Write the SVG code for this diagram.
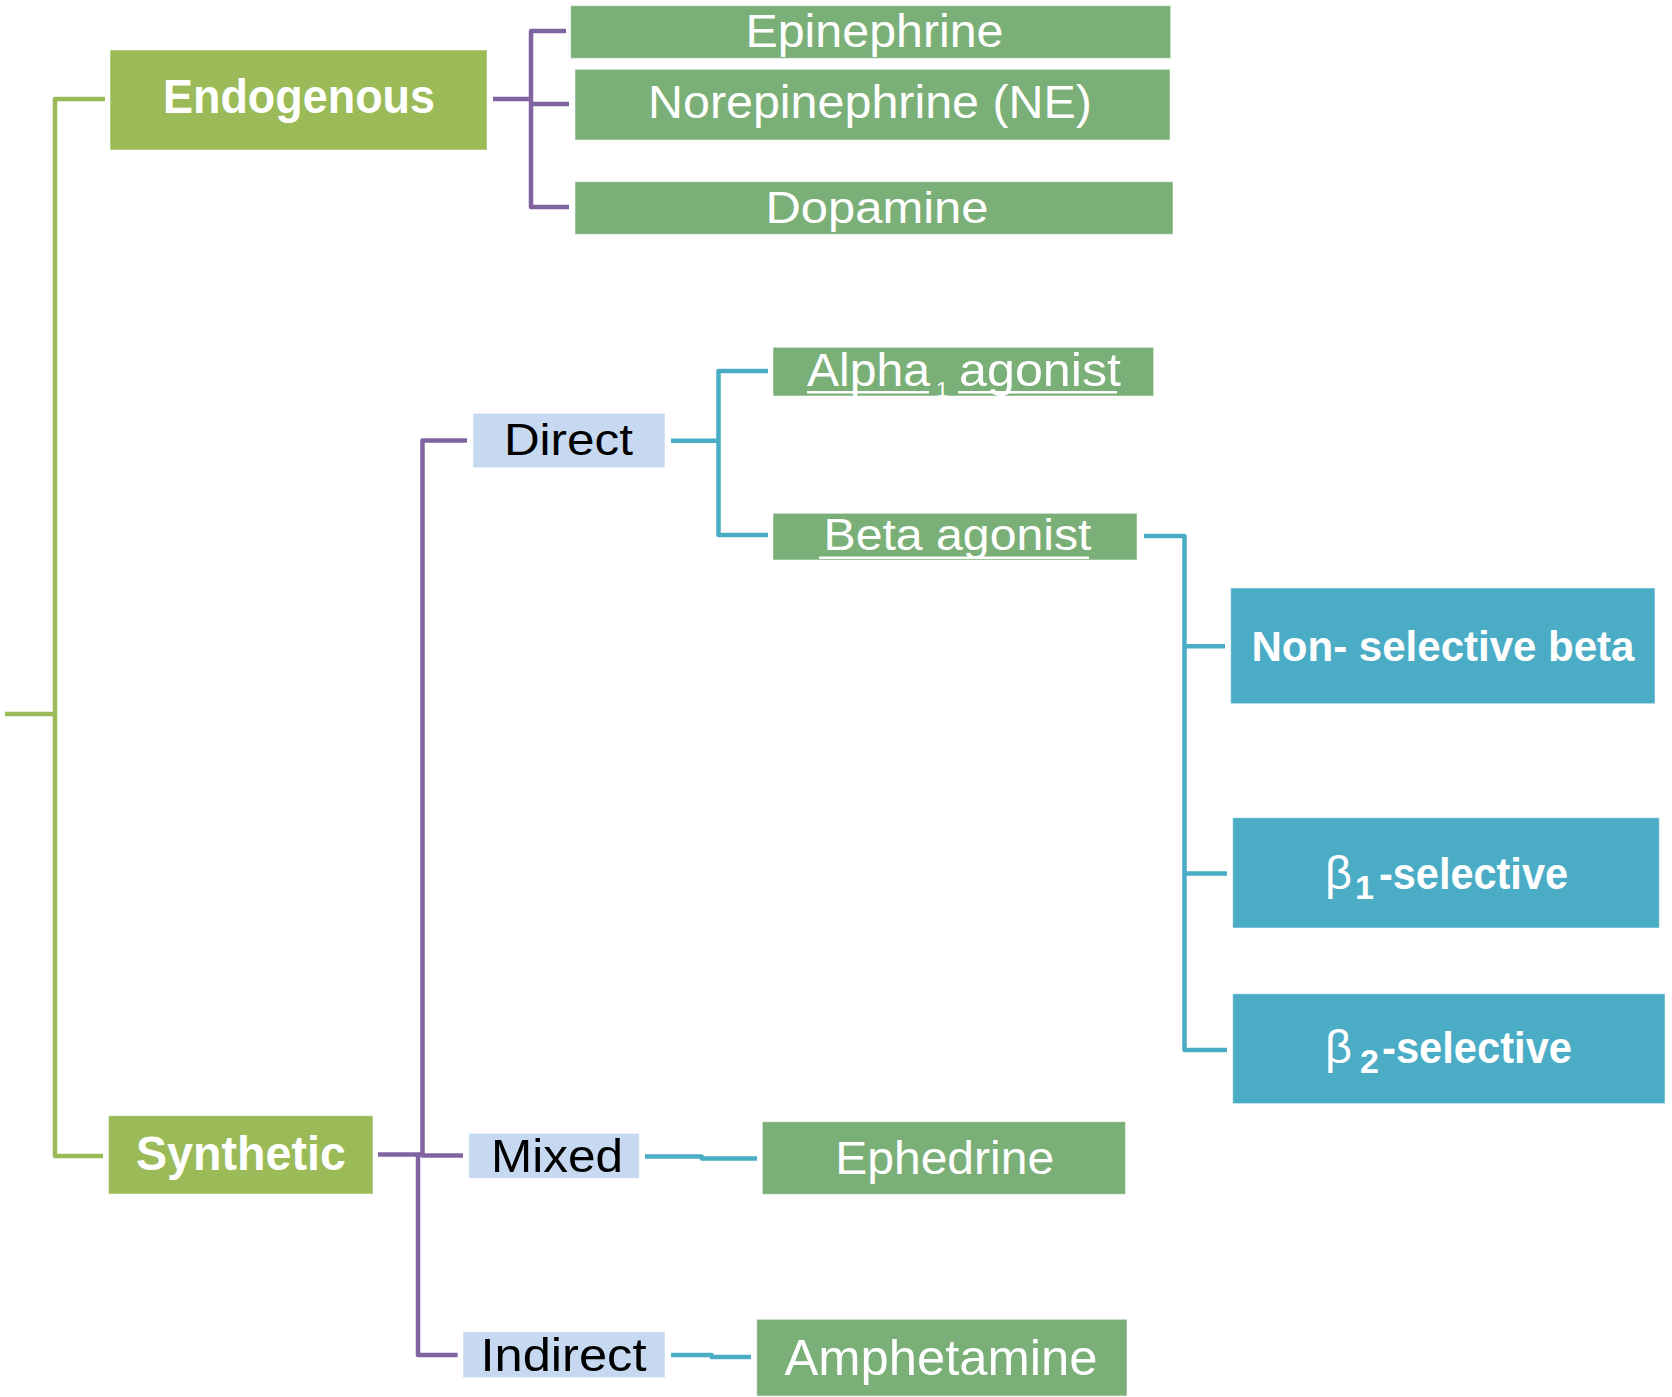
<svg xmlns="http://www.w3.org/2000/svg" width="1672" height="1397" viewBox="0 0 1672 1397">
<style>
  .bg { fill: #ffffff; }
  .cat { fill: #9BBB59; stroke: #ffffff; stroke-opacity: 0.5; stroke-width: 1; }
  .drug { fill: #7BAF78; stroke: #ffffff; stroke-opacity: 0.5; stroke-width: 1; }
  .mode { fill: #C6D9F1; stroke: #ffffff; stroke-opacity: 0.5; stroke-width: 1; }
  .sel { fill: #4BACC6; stroke: #ffffff; stroke-opacity: 0.5; stroke-width: 1; }
  text { font-family: "Liberation Sans", Arial, sans-serif; }
  .wb { fill: #ffffff; font-weight: bold; text-anchor: middle; }
  .w { fill: #ffffff; text-anchor: middle; }
  .ws { fill: #ffffff; }
  .wbs { fill: #ffffff; font-weight: bold; }
  .k { fill: #000000; text-anchor: middle; }
  .ul { stroke: #ffffff; stroke-width: 2.5; }
  .cg { fill: none; stroke: #9BBB59; stroke-width: 4.5; stroke-linejoin: round; }
  .cp { fill: none; stroke: #8064A2; stroke-width: 4.5; stroke-linejoin: round; }
  .cc { fill: none; stroke: #4BACC6; stroke-width: 4.5; stroke-linejoin: round; }
</style>
<rect class="bg" x="0" y="0" width="1672" height="1397"/>

<g id="connectors">
  <path class="cg" d="M105,99 H55 V1156 H103"/>
  <path class="cg" d="M5,714 H55"/>
  <path class="cp" d="M493,99 H531"/>
  <path class="cp" d="M566,31 H531 V207 H569"/>
  <path class="cp" d="M531,104 H569"/>
  <path class="cp" d="M378,1154.5 H422"/>
  <path class="cp" d="M467,440.5 H422.5 V1155.5 H463"/>
  <path class="cp" d="M418,1154 V1355 H457.6"/>
  <path class="cc" d="M671,440.7 H718.5"/>
  <path class="cc" d="M768,371 H718.5 V535 H768"/>
  <path class="cc" d="M1144,536 H1184.5 V1050 H1227"/>
  <path class="cc" d="M1184.5,646.3 H1225"/>
  <path class="cc" d="M1184.5,873.6 H1227"/>
  <path class="cc" d="M645,1156.5 H701.7 V1158.5 H757"/>
  <path class="cc" d="M671,1355 H711.5 V1357 H751"/>
</g>

<g id="endogenous">
  <rect class="cat" x="110" y="50" width="377" height="100"/>
  <text class="wb" x="299" y="113.3" font-size="49" textLength="272" lengthAdjust="spacingAndGlyphs">Endogenous</text>
</g>
<g id="synthetic">
  <rect class="cat" x="108.5" y="1115.7" width="264.5" height="78.3"/>
  <text class="wb" x="241" y="1170" font-size="48" textLength="210" lengthAdjust="spacingAndGlyphs">Synthetic</text>
</g>
<g id="epinephrine">
  <rect class="drug" x="570.7" y="5.7" width="600" height="52.6"/>
  <text class="w" x="874.5" y="47.3" font-size="46" textLength="258" lengthAdjust="spacingAndGlyphs">Epinephrine</text>
</g>
<g id="norepinephrine">
  <rect class="drug" x="575" y="69.3" width="595" height="70.7"/>
  <text class="w" x="870" y="118.3" font-size="46" textLength="444" lengthAdjust="spacingAndGlyphs">Norepinephrine (NE)</text>
</g>
<g id="dopamine">
  <rect class="drug" x="575" y="181.7" width="598" height="52.6"/>
  <text class="w" x="877" y="222.7" font-size="45" textLength="223" lengthAdjust="spacingAndGlyphs">Dopamine</text>
</g>
<g id="direct">
  <rect class="mode" x="473" y="413.3" width="192" height="54.4"/>
  <text class="k" x="568.4" y="455" font-size="44" textLength="129" lengthAdjust="spacingAndGlyphs">Direct</text>
</g>
<g id="alpha1">
  <rect class="drug" x="773" y="347.3" width="380.6" height="48.7"/>
  <text class="ws" x="807" y="386" font-size="46" textLength="123" lengthAdjust="spacingAndGlyphs">Alpha</text>
  <text class="ws" x="936" y="397" font-size="22">1</text>
  <text class="ws" x="959" y="386" font-size="46" textLength="162" lengthAdjust="spacingAndGlyphs">agonist</text>
  <line class="ul" x1="807" y1="392.3" x2="929" y2="392.3"/>
  <line class="ul" x1="958" y1="392.3" x2="1117" y2="392.3"/>
</g>
<g id="beta-agonist">
  <rect class="drug" x="773" y="513.3" width="364" height="46.7"/>
  <text class="w" x="957.5" y="550" font-size="45" textLength="268" lengthAdjust="spacingAndGlyphs">Beta agonist</text>
  <line class="ul" x1="819" y1="557.7" x2="1089" y2="557.7"/>
</g>
<g id="nonselective">
  <rect class="sel" x="1230.7" y="588" width="424.3" height="115.7"/>
  <text class="wb" x="1443" y="660.5" font-size="42" textLength="383" lengthAdjust="spacingAndGlyphs">Non- selective beta</text>
</g>
<g id="beta1">
  <rect class="sel" x="1232.7" y="817.7" width="426.6" height="110.3"/>
  <text class="ws" x="1325" y="889.3" font-size="47" textLength="27" lengthAdjust="spacingAndGlyphs">β</text>
  <text class="wbs" x="1355" y="899" font-size="34">1</text>
  <text class="wbs" x="1379" y="889.3" font-size="44" textLength="189" lengthAdjust="spacingAndGlyphs">-selective</text>
</g>
<g id="beta2">
  <rect class="sel" x="1232.7" y="993.8" width="432.3" height="109.8"/>
  <text class="ws" x="1325" y="1063.4" font-size="47" textLength="27" lengthAdjust="spacingAndGlyphs">β</text>
  <text class="wbs" x="1360" y="1073" font-size="34">2</text>
  <text class="wbs" x="1382" y="1063.4" font-size="44" textLength="190" lengthAdjust="spacingAndGlyphs">-selective</text>
</g>
<g id="mixed">
  <rect class="mode" x="468.75" y="1133.3" width="170.5" height="45"/>
  <text class="k" x="557" y="1171.7" font-size="47" textLength="132" lengthAdjust="spacingAndGlyphs">Mixed</text>
</g>
<g id="indirect">
  <rect class="mode" x="463" y="1331.7" width="202" height="46"/>
  <text class="k" x="563.5" y="1370.7" font-size="46" textLength="166" lengthAdjust="spacingAndGlyphs">Indirect</text>
</g>
<g id="ephedrine">
  <rect class="drug" x="762.4" y="1121.7" width="363" height="72.6"/>
  <text class="w" x="944.7" y="1174.3" font-size="46" textLength="219" lengthAdjust="spacingAndGlyphs">Ephedrine</text>
</g>
<g id="amphetamine">
  <rect class="drug" x="756.8" y="1319.3" width="370.2" height="76.7"/>
  <text class="w" x="941" y="1375" font-size="50" textLength="313" lengthAdjust="spacingAndGlyphs">Amphetamine</text>
</g>
</svg>
